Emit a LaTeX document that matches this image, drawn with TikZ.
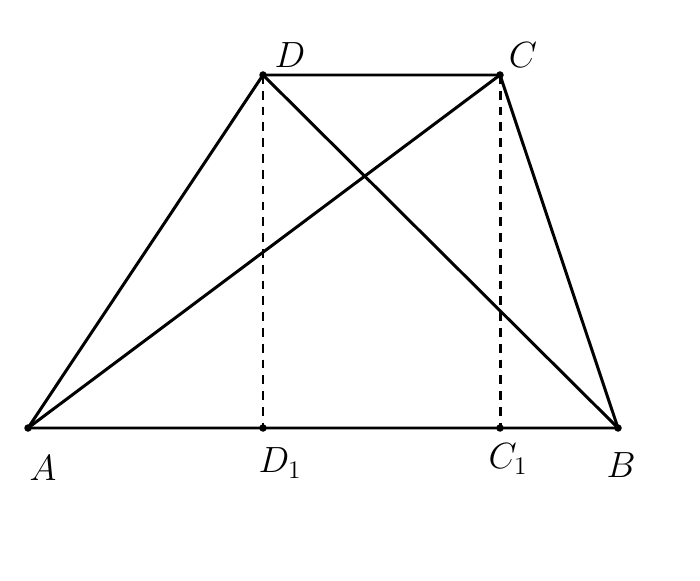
\documentclass[tikz,border=0pt]{standalone}
\usetikzlibrary{positioning}
\tikzset{pt/.style={circle,fill=black,inner sep=0pt,minimum size=0.15cm},
lbl/.style={font=\fontsize{20}{22}\selectfont},
proj/.style={dashed,dash pattern=on 5pt off 4pt}}
\begin{document}
\begin{tikzpicture}[line width=1.7pt]
\useasboundingbox (0,0) rectangle (14,11.6);
\coordinate (A) at (0.56,3.04);
\coordinate (B) at (12.36,3.04);
\coordinate (C) at (10.0,10.1);
\coordinate (D) at (5.26,10.1);
\coordinate (D1) at (5.26,3.04);
\coordinate (C1) at (10.0,3.04);
\draw (A) -- (B) -- (C) -- (D) -- (A);
\draw (A) -- (C);
\draw (D) -- (B);
\draw[proj] (D) -- (D1);
\draw[proj] (C) -- (C1);
\foreach \p in {A,B,C,D,D1,C1} \node[pt] at (\p) {};
\node[lbl] at (0.86,2.24) {$A$};
\node[lbl] at (12.42,2.3) {$B$};
\node[lbl] at (10.46,10.5) {$C$};
\node[lbl] at (5.8,10.5) {$D$};
\node[lbl] at (5.6,2.34) {$D_1$};
\node[lbl] at (10.16,2.42) {$C_1$};
\end{tikzpicture}
\end{document}
